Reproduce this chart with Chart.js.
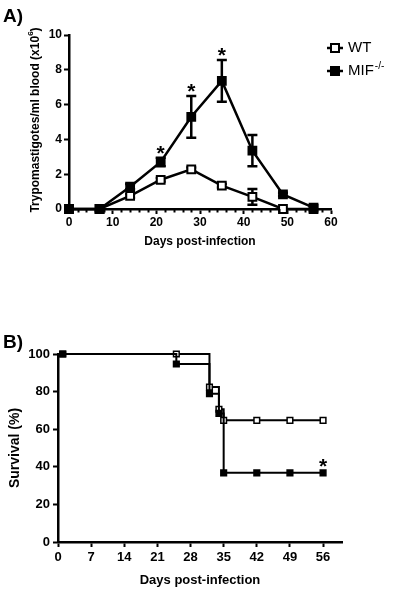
<!DOCTYPE html>
<html>
<head>
<meta charset="utf-8">
<script src="https://cdn.jsdelivr.net/npm/chart.js@4.4.1/dist/chart.umd.min.js"></script>
<style>
  body { margin: 0; background: #fff; }
  #wrap { position: relative; width: 405px; height: 593px; }
  #cA { position: absolute; left: 0; top: 0; }
  #cB { position: absolute; left: 0; top: 300px; }
</style>
</head>
<body>
<div id="wrap">
  <canvas id="cA" width="405" height="300"></canvas>
  <canvas id="cB" width="405" height="293"></canvas>
</div>
<script>
// Panel A: parasitemia (mean +/- SEM)
const days = [0, 7, 14, 21, 28, 35, 42, 49, 56];
const wtMean = [0, 0, 0.75, 1.68, 2.28, 1.34, 0.7, 0, 0];
const wtSem = [0, 0, 0.1, 0.1, 0.1, 0.1, 0.45, 0, 0];
const mifMean = [0, 0, 1.28, 2.7, 5.3, 7.36, 3.35, 0.84, 0.08];
const mifSem = [0, 0, 0.15, 0.25, 1.2, 1.2, 0.9, 0.1, 0];
const starDaysA = [21, 28, 35];

// Panel B: survival
const survDays = [0, 1, 25, 32, 34, 35, 42, 49, 56];
const wtSurv = [100, 100, 100, 82.4, 70.6, 64.7, 64.7, 64.7, 64.7];
const mifSurv = [100, 100, 94.7, 78.9, 68.4, 36.8, 36.8, 36.8, 36.8];
const starDaysB = [56];
const survTicks = [0, 7, 14, 21, 28, 35, 42, 49, 56];

const FONT = "Arial, 'Liberation Sans', sans-serif";
Chart.defaults.font.family = FONT;
Chart.defaults.color = '#000';

function toPoints(xs, ys) {
    return xs.map((x, i) => ({ x: x, y: ys[i] }));
}

function fixedSize(size) {
    return function (scale) {
        if (scale.isHorizontal()) scale.height = size;
        else scale.width = size;
    };
}

// error bars under the markers
const errorBars = {
    id: 'errorBars',
    beforeDatasetsDraw(chart) {
        const ctx = chart.ctx, xs = chart.scales.x, ys = chart.scales.y;
        ctx.save();
        ctx.strokeStyle = '#000';
        ctx.lineWidth = 2.5;
        chart.data.datasets.forEach(ds => {
            if (!ds.sem) return;
            ds.data.forEach((p, i) => {
                const e = ds.sem[i];
                if (!e) return;
                const x = xs.getPixelForValue(p.x);
                const y1 = ys.getPixelForValue(p.y + e);
                const y2 = ys.getPixelForValue(Math.max(p.y - e, 0));
                ctx.beginPath();
                ctx.moveTo(x, y1); ctx.lineTo(x, y2);
                ctx.moveTo(x - 5, y1); ctx.lineTo(x + 5, y1);
                ctx.moveTo(x - 5, y2); ctx.lineTo(x + 5, y2);
                ctx.stroke();
            });
        });
        ctx.restore();
    }
};

function starsPlugin(dsIndex, starDays, gap) {
    return {
        id: 'stars',
        afterDatasetsDraw(chart) {
            const ctx = chart.ctx, xs = chart.scales.x, ys = chart.scales.y;
            const ds = chart.data.datasets[dsIndex];
            ctx.save();
            ctx.font = 'bold 21px ' + FONT;
            ctx.textAlign = 'center';
            ctx.textBaseline = 'alphabetic';
            ctx.fillStyle = '#000';
            starDays.forEach(d => {
                const i = ds.data.findIndex(p => p.x === d);
                const p = ds.data[i];
                const top = p.y + (ds.sem ? ds.sem[i] : 0);
                const y = ys.getPixelForValue(top) - gap;
                ctx.fillText('*', xs.getPixelForValue(d), y + 12);
            });
            ctx.restore();
        }
    };
}

function panelLabel(text, y) {
    return {
        id: 'panelLabel',
        afterDraw(chart) {
            const ctx = chart.ctx;
            ctx.save();
            ctx.font = 'bold 19px ' + FONT;
            ctx.fillStyle = '#000';
            ctx.textBaseline = 'alphabetic';
            ctx.fillText(text, 3, y);
            ctx.restore();
        }
    };
}

// small ticks every 2 days on panel A
const minorTicks = {
    id: 'minorTicks',
    afterDraw(chart) {
        const ctx = chart.ctx, xs = chart.scales.x;
        const y0 = chart.chartArea.bottom;
        ctx.save();
        ctx.strokeStyle = '#000';
        ctx.lineWidth = 2;
        for (let v = 2; v < 60; v += 2) {
            if (v % 10 === 0) continue;
            const x = Math.round(xs.getPixelForValue(v)) + 0.5;
            ctx.beginPath();
            ctx.moveTo(x, y0);
            ctx.lineTo(x, y0 + 3.5);
            ctx.stroke();
        }
        ctx.restore();
    }
};

const yTitleA = {
    id: 'yTitleA',
    afterDraw(chart) {
        const ctx = chart.ctx;
        const main = 'Trypomastigotes/ml blood (x10', sup = '6', close = ')';
        ctx.save();
        ctx.translate(36, 120);
        ctx.rotate(-Math.PI / 2);
        ctx.fillStyle = '#000';
        ctx.textBaseline = 'middle';
        ctx.font = 'bold 12px ' + FONT;
        const w1 = ctx.measureText(main).width, w3 = ctx.measureText(close).width;
        ctx.font = 'bold 8px ' + FONT;
        const w2 = ctx.measureText(sup).width;
        let x = -(w1 + w2 + w3) / 2;
        ctx.font = 'bold 12px ' + FONT;
        ctx.fillText(main, x, 0);
        ctx.font = 'bold 8px ' + FONT;
        ctx.fillText(sup, x + w1, -5);
        ctx.font = 'bold 12px ' + FONT;
        ctx.fillText(close, x + w1 + w2, 0);
        ctx.restore();
    }
};

const legendA = {
    id: 'legendA',
    afterDraw(chart) {
        const ctx = chart.ctx;
        const items = [
            { text: 'WT', sup: '', fill: '#fff', y: 48 },
            { text: 'MIF', sup: '-/-', fill: '#000', y: 71 }
        ];
        ctx.save();
        ctx.strokeStyle = '#000';
        ctx.textBaseline = 'middle';
        items.forEach(it => {
            ctx.lineWidth = 2.5;
            ctx.beginPath();
            ctx.moveTo(327, it.y); ctx.lineTo(343, it.y);
            ctx.stroke();
            ctx.lineWidth = 2;
            ctx.fillStyle = it.fill;
            ctx.fillRect(331, it.y - 4, 8, 8);
            ctx.strokeRect(331, it.y - 4, 8, 8);
            ctx.fillStyle = '#000';
            ctx.font = '15px ' + FONT;
            ctx.fillText(it.text, 348, it.y);
            if (it.sup) {
                const w = ctx.measureText(it.text).width;
                ctx.font = '10px ' + FONT;
                ctx.fillText(it.sup, 348 + w + 1, it.y - 5);
            }
        });
        ctx.restore();
    }
};

const axisGrid = { drawOnChartArea: false, tickLength: 5, tickColor: '#000', tickWidth: 2 };
const axisBorder = { color: '#000', width: 2.5 };

new Chart(document.getElementById('cA'), {
    type: 'line',
    data: {
        datasets: [
            {
                label: 'MIF-/-',
                data: toPoints(days, mifMean),
                sem: mifSem,
                borderColor: '#000',
                backgroundColor: '#000',
                borderWidth: 2.5,
                pointStyle: 'rect',
                pointRadius: 5.5,
                pointBorderWidth: 2,
                clip: false,
                order: 0
            },
            {
                label: 'WT',
                data: toPoints(days, wtMean),
                sem: wtSem,
                borderColor: '#000',
                backgroundColor: '#fff',
                borderWidth: 2.5,
                pointStyle: 'rect',
                pointRadius: 5.5,
                pointBorderWidth: 2,
                clip: false,
                order: 1
            }
        ]
    },
    options: {
        responsive: false,
        animation: false,
        layout: { padding: { top: 35, right: 74, left: 0, bottom: 0 } },
        plugins: { legend: { display: false }, tooltip: { enabled: false } },
        scales: {
            x: {
                type: 'linear', min: 0, max: 60,
                afterFit: fixedSize(91),
                ticks: { stepSize: 10, padding: 1, font: { size: 12, weight: 'bold' } },
                grid: axisGrid,
                border: axisBorder,
                title: { display: true, text: 'Days post-infection', font: { size: 12, weight: 'bold' }, padding: { top: 0, bottom: 51 } }
            },
            y: {
                min: 0, max: 10,
                afterFit: fixedSize(69),
                ticks: { stepSize: 2, padding: 2, font: { size: 12, weight: 'bold' } },
                grid: axisGrid,
                border: axisBorder
            }
        }
    },
    plugins: [errorBars, starsPlugin(0, starDaysA, 10), minorTicks, yTitleA, legendA, panelLabel('A)', 22)]
});

new Chart(document.getElementById('cB'), {
    type: 'line',
    data: {
        datasets: [
            {
                label: 'MIF-/-',
                data: toPoints(survDays, mifSurv),
                stepped: 'before',
                borderColor: '#000',
                backgroundColor: '#000',
                borderWidth: 2,
                pointStyle: 'rect',
                pointRadius: c => (c.dataIndex === 0 ? 0 : 4),
                pointBorderWidth: 1.5,
                clip: false,
                order: 0
            },
            {
                label: 'WT',
                data: toPoints(survDays, wtSurv),
                stepped: 'before',
                borderColor: '#000',
                backgroundColor: '#fff',
                borderWidth: 2,
                pointStyle: 'rect',
                pointRadius: c => (c.dataIndex === 0 ? 0 : 4),
                pointBorderWidth: 1.5,
                clip: false,
                order: 1
            }
        ]
    },
    options: {
        responsive: false,
        animation: false,
        layout: { padding: { top: 54, right: 63, left: 0, bottom: 0 } },
        plugins: { legend: { display: false }, tooltip: { enabled: false } },
        scales: {
            x: {
                type: 'linear', min: 0, max: 60,
                afterFit: fixedSize(51),
                afterBuildTicks: scale => { scale.ticks = survTicks.map(v => ({ value: v })); },
                ticks: { padding: 3, font: { size: 13, weight: 'bold' } },
                grid: axisGrid,
                border: axisBorder,
                title: { display: true, text: 'Days post-infection', font: { size: 13, weight: 'bold' }, padding: { top: 0, bottom: 5 } }
            },
            y: {
                min: 0, max: 100,
                afterFit: fixedSize(58),
                ticks: { stepSize: 20, padding: 3, font: { size: 13, weight: 'bold' } },
                grid: axisGrid,
                border: axisBorder,
                title: { display: true, text: 'Survival (%)', font: { size: 14, weight: 'bold' }, padding: { top: 7, bottom: 0 } }
            }
        }
    },
    plugins: [starsPlugin(0, starDaysB, 12), panelLabel('B)', 48)]
});
</script>
</body>
</html>
